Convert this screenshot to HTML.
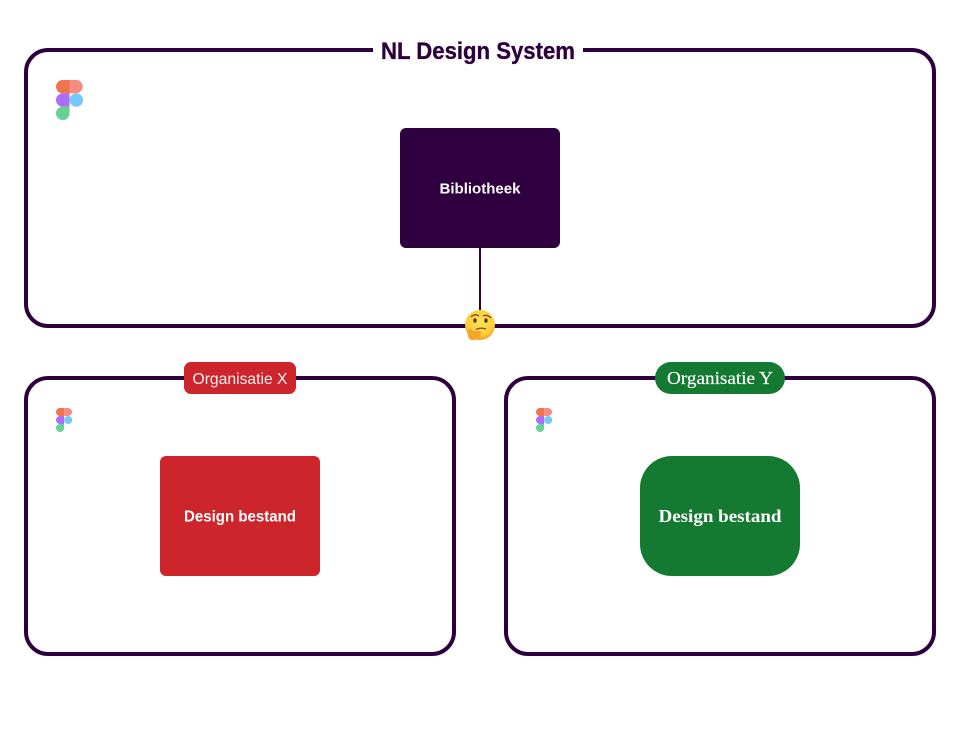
<!DOCTYPE html>
<html>
<head>
<meta charset="utf-8">
<style>
html,body{margin:0;padding:0;background:#fff;width:960px;height:736px;overflow:hidden}
svg{display:block}
</style>
</head>
<body>
<svg width="960" height="736" viewBox="0 0 960 736" xmlns="http://www.w3.org/2000/svg">
<defs>
<radialGradient id="face" cx=".5" cy=".4" r=".62">
<stop offset="0" stop-color="#ffe25a"/>
<stop offset=".7" stop-color="#fdcf3c"/>
<stop offset="1" stop-color="#f29a1f"/>
</radialGradient>
<g id="figma">
<path d="M0 6.67A6.67 6.67 0 0 1 6.67 0H13.5V13.33H6.67A6.67 6.67 0 0 1 0 6.67Z" fill="#f1734e"/>
<path d="M13.5 0H20.3A6.67 6.67 0 0 1 20.3 13.33H13.5Z" fill="#f48c80"/>
<path d="M0 20A6.67 6.67 0 0 1 6.67 13.33H13.5V26.67H6.67A6.67 6.67 0 0 1 0 20Z" fill="#a96ffb"/>
<circle cx="20.3" cy="20" r="6.67" fill="#73c8fe"/>
<path d="M0 33.33A6.67 6.67 0 0 1 6.67 26.67H13.5V33.33A6.67 6.67 0 0 1 0 33.33Z" fill="#66d191"/>
</g>
</defs>

<rect x="26" y="50" width="908" height="276" rx="22" fill="#fff" stroke="#2f003f" stroke-width="4"/>
<rect x="373" y="44" width="210" height="12" fill="#fff"/>
<text x="381" y="59" font-family="'Liberation Sans',sans-serif" font-weight="700" font-size="24" fill="#2f003f" stroke="#2f003f" stroke-width=".35" textLength="194" lengthAdjust="spacingAndGlyphs">NL Design System</text>
<use href="#figma" x="56" y="80"/>
<rect x="400" y="128" width="160" height="120" rx="6" fill="#2f003f"/>
<text x="480" y="193.5" text-anchor="middle" font-family="'Liberation Sans',sans-serif" font-weight="700" font-size="15" fill="#fff" textLength="81" lengthAdjust="spacingAndGlyphs">Bibliotheek</text>
<rect x="479" y="248" width="2" height="70" fill="#2f003f"/>

<g>
<circle cx="480" cy="325" r="15" fill="url(#face)"/>
<path d="M471 317Q475 313 479 316" fill="none" stroke="#6b4315" stroke-width="1.2"/>
<path d="M483 316Q487 314 491 318" fill="none" stroke="#6b4315" stroke-width="1.2"/>
<ellipse cx="475" cy="320.5" rx="1.7" ry="2.3" fill="#5b3a14"/>
<ellipse cx="486" cy="320.5" rx="1.7" ry="2.3" fill="#5b3a14"/>
<path d="M476 329.5Q481 327 486 329" fill="none" stroke="#7a4d18" stroke-width="1.3"/>
<path d="M470 328Q472 331 475 331L480 331Q483 333 480 335Q479 339 474 340Q469 341 468 336Q467 331 470 328Z" fill="#f4a62a"/>
</g>

<rect x="26" y="378" width="428" height="276" rx="22" fill="#fff" stroke="#2f003f" stroke-width="4"/>
<rect x="184" y="362" width="112" height="32" rx="7" fill="#cc262c"/>
<text x="240" y="384" text-anchor="middle" font-family="'Liberation Sans',sans-serif" font-size="16" fill="#fff" fill-opacity=".92" textLength="95" lengthAdjust="spacingAndGlyphs">Organisatie X</text>
<use href="#figma" transform="translate(56 408) scale(.6)"/>
<rect x="160" y="456" width="160" height="120" rx="6" fill="#cc262c"/>
<text x="240" y="521.5" text-anchor="middle" font-family="'Liberation Sans',sans-serif" font-weight="700" font-size="16" fill="#fff" textLength="112" lengthAdjust="spacingAndGlyphs">Design bestand</text>

<rect x="506" y="378" width="428" height="276" rx="22" fill="#fff" stroke="#2f003f" stroke-width="4"/>
<rect x="655" y="362" width="130" height="32" rx="16" fill="#157a31"/>
<text x="720" y="384" text-anchor="middle" font-family="'Liberation Serif',serif" font-size="18" fill="#fff" stroke="#fff" stroke-width=".15" textLength="106" lengthAdjust="spacingAndGlyphs">Organisatie Y</text>
<use href="#figma" transform="translate(536 408) scale(.6)"/>
<rect x="640" y="456" width="160" height="120" rx="32" fill="#157a31"/>
<text x="720" y="522" text-anchor="middle" font-family="'Liberation Serif',serif" font-weight="700" font-size="18" fill="#fff" textLength="123" lengthAdjust="spacingAndGlyphs">Design bestand</text>
</svg>
</body>
</html>
